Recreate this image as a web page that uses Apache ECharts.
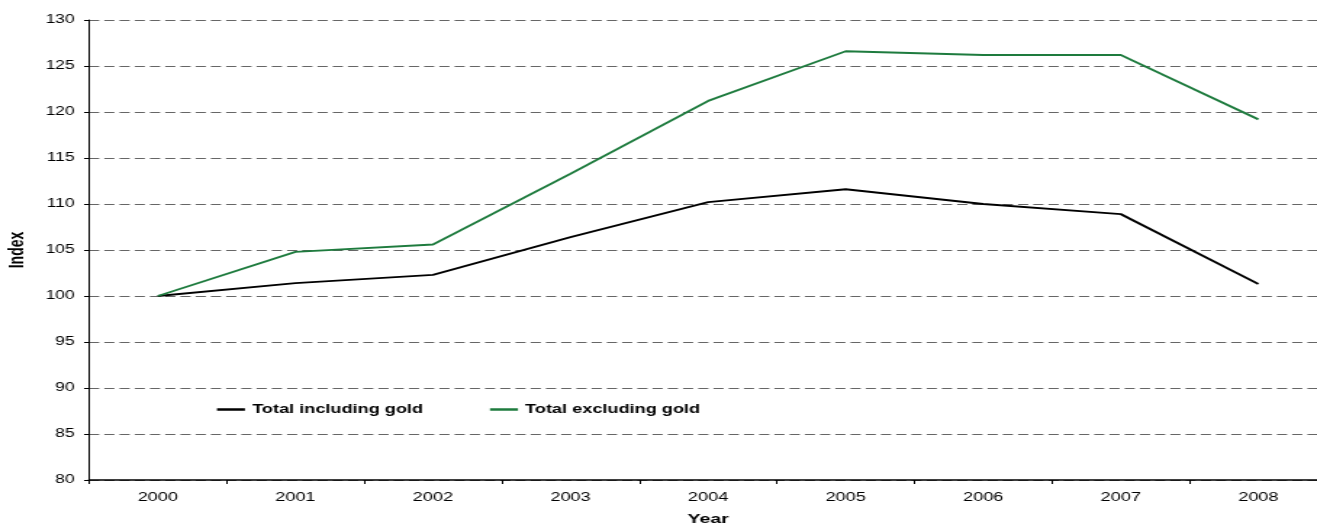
<!DOCTYPE html>
<html><head><meta charset="utf-8">
<script src="https://cdn.jsdelivr.net/npm/echarts@6/dist/echarts.min.js"></script>
<style>
html,body{margin:0;padding:0;background:#fff;overflow:hidden}
#wrap{width:1317px;height:526px;overflow:hidden;position:relative}
#c{width:908px;height:526px;transform:scaleX(1.4504);transform-origin:0 0;position:absolute;left:0;top:0}
</style>
</head><body><div id="wrap"><div id="c"></div></div>
<script>
const years = ['2000','2001','2002','2003','2004','2005','2006','2007','2008'];
const totalIncludingGold = [100, 101.4, 102.3, 106.4, 110.2, 111.6, 110.0, 108.9, 101.3];
const totalExcludingGold = [100, 104.8, 105.6, 113.3, 121.2, 126.6, 126.2, 126.2, 119.2];
const seriesNames = ['Total including gold', 'Total excluding gold'];

const chart = echarts.init(document.getElementById('c'));
const font = 'Liberation Sans, Arial, sans-serif';
const legendText = { fontSize: 12.5, fontWeight: 'bold', color: '#000', fontFamily: font };
chart.setOption({
  animation: false,
  textStyle: { fontFamily: font },
  grid: { left: 61.4, top: 20, bottom: 46, right: -7, containLabel: false, outerBoundsMode: 'none' },
  legend: [
    { data: [seriesNames[0]], left: 149.6, top: 403, padding: 0, itemWidth: 19.3, itemHeight: 2.5, icon: 'rect',
      textStyle: legendText },
    { data: [seriesNames[1]], left: 337.8, top: 403, padding: 0, itemWidth: 19.3, itemHeight: 2.5, icon: 'rect',
      textStyle: legendText }
  ],
  xAxis: {
    type: 'category', data: years, boundaryGap: true,
    name: 'Year', nameLocation: 'middle', nameGap: 32,
    nameTextStyle: { fontSize: 13.5, fontWeight: 'bold', color: '#000', fontFamily: font },
    axisLine: { lineStyle: { color: '#000', width: 1.5 } },
    axisTick: { show: true, length: 4, lineStyle: { color: '#000' } },
    axisLabel: { color: '#000', fontSize: 12.5, margin: 11, fontFamily: font }
  },
  yAxis: {
    type: 'value', min: 80, max: 130, interval: 5,
    name: 'Index', nameLocation: 'middle', nameGap: 42, nameRotate: 90,
    nameTextStyle: { fontSize: 14, fontWeight: 'bold', color: '#000', fontFamily: font },
    axisLine: { show: true, lineStyle: { color: '#000', width: 1 } },
    axisTick: { show: true, length: 3.4, lineStyle: { color: '#000' } },
    axisLabel: { color: '#000', fontSize: 12, margin: 10, fontFamily: font },
    splitLine: { show: true, lineStyle: { color: '#666', type: [7, 3.5], width: 1 } }
  },
  series: [
    { name: seriesNames[0], type: 'line', data: totalIncludingGold, symbol: 'none',
      lineStyle: { color: '#000', width: 1.9 }, itemStyle: { color: '#000' } },
    { name: seriesNames[1], type: 'line', data: totalExcludingGold, symbol: 'none',
      lineStyle: { color: '#1e7b3e', width: 1.9 }, itemStyle: { color: '#1e7b3e' } }
  ]
});
</script></body></html>
